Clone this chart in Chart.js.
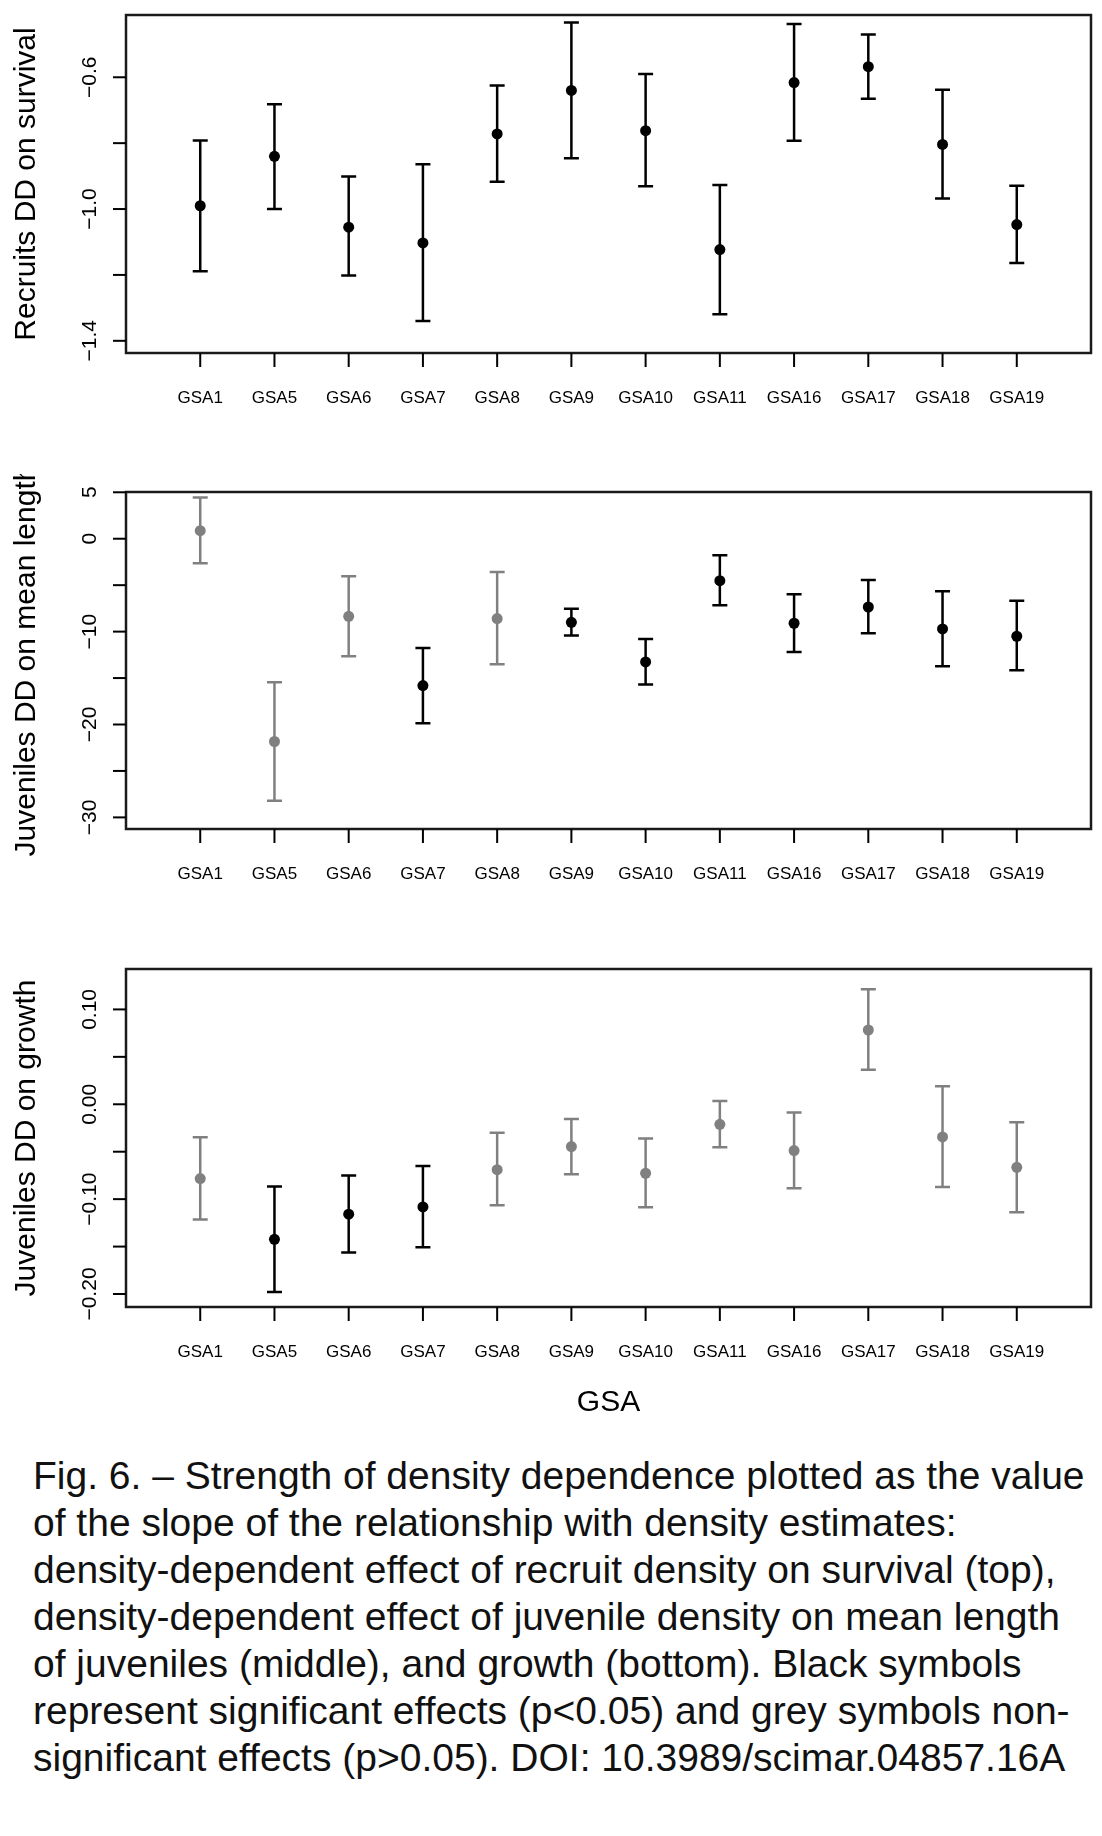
<!DOCTYPE html>
<html>
<head>
<meta charset="utf-8">
<script src="https://cdn.jsdelivr.net/npm/chart.js@4/dist/chart.umd.min.js"></script>
<style>
  html, body { margin:0; padding:0; background:#fff; }
  body { width:1102px; height:1836px; position:relative; overflow:hidden; }
  canvas { position:absolute; left:0; }
  #caption {
    position:absolute; left:33px; top:1452px; width:1069px;
    font-family:"Liberation Sans", Arial, Helvetica, sans-serif;
    font-size:39px; line-height:47px; color:#111; white-space:nowrap;
  }
</style>
</head>
<body>
<canvas id="c1" width="1102" height="430" style="top:0px"></canvas>
<canvas id="c2" width="1102" height="430" style="top:474px"></canvas>
<canvas id="c3" width="1102" height="520" style="top:904px"></canvas>
<div id="caption">Fig. 6. – Strength of density dependence plotted as the value<br>of the slope of the relationship with density estimates:<br>density-dependent effect of recruit density on survival (top),<br>density-dependent effect of juvenile density on mean length<br>of juveniles (middle), and growth (bottom). Black symbols<br>represent significant effects (p&lt;0.05) and grey symbols non-<br>significant effects (p&gt;0.05). DOI: 10.3989/scimar.04857.16A</div>
<script>
const gsa = ['GSA1','GSA5','GSA6','GSA7','GSA8','GSA9','GSA10','GSA11','GSA16','GSA17','GSA18','GSA19'];

// top: recruits DD on survival
const surv   = [-0.990, -0.840, -1.055, -1.103, -0.772, -0.640, -0.762, -1.123, -0.616, -0.568, -0.804, -1.047];
const survLo = [-1.189, -1.000, -1.202, -1.340, -0.917, -0.846, -0.931, -1.319, -0.793, -0.665, -0.968, -1.164];
const survHi = [-0.792, -0.682, -0.901, -0.864, -0.625, -0.434, -0.590, -0.927, -0.438, -0.470, -0.638, -0.929];
const survSig = [1,1,1,1,1,1,1,1,1,1,1,1];
const survTicks = [-0.6, -0.8, -1.0, -1.2, -1.4];
const survTickLabels = ['−0.6', '', '−1.0', '', '−1.4'];

// middle: juveniles DD on mean length
const len   = [0.86, -21.83, -8.35, -15.81, -8.60, -9.00, -13.26, -4.52, -9.10, -7.35, -9.71, -10.50];
const lenLo = [-2.63, -28.21, -12.65, -19.86, -13.51, -10.43, -15.70, -7.17, -12.19, -10.18, -13.73, -14.16];
const lenHi = [4.44, -15.45, -4.05, -11.76, -3.58, -7.53, -10.79, -1.79, -5.99, -4.44, -5.66, -6.67];
const lenSig = [0,0,0,1,0,1,1,1,1,1,1,1];
const lenTicks = [5, 0, -5, -10, -15, -20, -25, -30];
const lenTickLabels = ['5', '0', '', '−10', '', '−20', '', '−30'];

// bottom: juveniles DD on growth
const gro   = [-0.0783, -0.1423, -0.1159, -0.1082, -0.0689, -0.0446, -0.0727, -0.0211, -0.0488, 0.0783, -0.0344, -0.0664];
const groLo = [-0.1215, -0.1978, -0.1563, -0.1507, -0.1064, -0.0738, -0.1086, -0.0453, -0.0885, 0.0365, -0.0871, -0.1138];
const groHi = [-0.0348, -0.0868, -0.0752, -0.0650, -0.0299, -0.0155, -0.0362, 0.0035, -0.0088, 0.1212, 0.0190, -0.0190];
const groSig = [0,1,1,1,0,0,0,0,0,0,0,0];
const groTicks = [0.10, 0.05, 0.00, -0.05, -0.10, -0.15, -0.20];
const groTickLabels = ['0.10', '', '0.00', '', '−0.10', '', '−0.20'];

const FONT = '"Liberation Sans", Arial, Helvetica, sans-serif';
const BLACK = '#000000';
const GREY = '#808080';

// R-style frame, axes and error bars, drawn from the chart's own scales
const rAxes = {
  id: 'rAxes',
  beforeDatasetsDraw(chart, args, o){
    const ctx = chart.ctx, xs = chart.scales.x, ys = chart.scales.y;
    ctx.save();
    ctx.lineWidth = 2.5;
    o.mean.forEach((m, i) => {
      const x = xs.getPixelForValue(i + 1);
      const y1 = ys.getPixelForValue(o.lo[i]), y2 = ys.getPixelForValue(o.hi[i]);
      ctx.strokeStyle = o.sig[i] ? BLACK : GREY;
      ctx.beginPath();
      ctx.moveTo(x, y1); ctx.lineTo(x, y2);
      ctx.moveTo(x - 7.5, y1); ctx.lineTo(x + 7.5, y1);
      ctx.moveTo(x - 7.5, y2); ctx.lineTo(x + 7.5, y2);
      ctx.stroke();
    });
    ctx.restore();
  },
  afterDraw(chart, args, o){
    const ctx = chart.ctx, a = chart.chartArea;
    const xs = chart.scales.x, ys = chart.scales.y;
    ctx.save();
    ctx.strokeStyle = '#1a1a1a';
    ctx.lineWidth = 2.5;
    ctx.strokeRect(a.left, a.top, a.right - a.left, a.bottom - a.top);

    ctx.strokeStyle = BLACK;
    ctx.lineWidth = 2;
    ctx.fillStyle = BLACK;
    // x axis
    ctx.font = '17px ' + FONT;
    ctx.textAlign = 'center';
    ctx.textBaseline = 'middle';
    gsa.forEach((g, i) => {
      const x = xs.getPixelForValue(i + 1);
      ctx.beginPath(); ctx.moveTo(x, a.bottom); ctx.lineTo(x, a.bottom + 14); ctx.stroke();
      ctx.fillText(g, x, a.bottom + 45);
    });
    // y axis
    ctx.font = '21px ' + FONT;
    o.ticks.forEach((t, i) => {
      const y = ys.getPixelForValue(t);
      ctx.beginPath(); ctx.moveTo(a.left - 13, y); ctx.lineTo(a.left, y); ctx.stroke();
      if (o.tickLabels[i]) {
        ctx.save();
        ctx.translate(a.left - 36, y);
        ctx.rotate(-Math.PI / 2);
        ctx.fillText(o.tickLabels[i], 0, 0);
        ctx.restore();
      }
    });
    // titles
    ctx.font = '30px ' + FONT;
    ctx.save();
    ctx.translate(27, (a.top + a.bottom) / 2);
    ctx.rotate(-Math.PI / 2);
    ctx.fillText(o.yTitle, 0, 0);
    ctx.restore();
    if (o.xTitle) ctx.fillText(o.xTitle, (a.left + a.right) / 2, a.bottom + 96);
    ctx.restore();
  }
};

function panel(id, mean, lo, hi, sig, yMin, yMax, ticks, tickLabels, yTitle, xTitle, pad){
  new Chart(document.getElementById(id), {
    type: 'scatter',
    data: {
      datasets: [{
        data: mean.map((v, i) => ({ x: i + 1, y: v })),
        pointRadius: 5.5,
        pointBorderWidth: 0,
        pointBackgroundColor: sig.map(s => s ? BLACK : GREY),
        pointBorderColor: sig.map(s => s ? BLACK : GREY)
      }]
    },
    options: {
      responsive: false,
      animation: false,
      layout: { padding: pad },
      scales: {
        x: { type: 'linear', min: 0, max: 13, display: false },
        y: { type: 'linear', min: yMin, max: yMax, display: false }
      },
      plugins: {
        legend: { display: false },
        tooltip: { enabled: false },
        rAxes: { mean, lo, hi, sig, ticks, tickLabels, yTitle, xTitle }
      }
    },
    plugins: [rAxes]
  });
}

panel('c1', surv, survLo, survHi, survSig, -1.437, -0.411, survTicks, survTickLabels,
  'Recruits DD on survival', null, { left: 126, right: 11, top: 15, bottom: 77 });
panel('c2', len, lenLo, lenHi, lenSig, -31.25, 5.03, lenTicks, lenTickLabels,
  'Juveniles DD on mean length', null, { left: 126, right: 11, top: 18, bottom: 75 });
panel('c3', gro, groLo, groHi, groSig, -0.2137, 0.1426, groTicks, groTickLabels,
  'Juveniles DD on growth', 'GSA', { left: 126, right: 11, top: 65, bottom: 117 });
</script>
</body>
</html>
